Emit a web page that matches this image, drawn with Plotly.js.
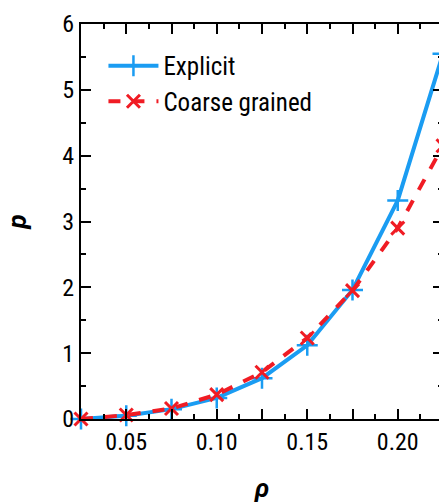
<!DOCTYPE html>
<html><head><meta charset="utf-8">
<script src="https://cdn.plot.ly/plotly-3.0.1.min.js"></script>
<style>html,body{margin:0;padding:0;overflow:hidden;background:#fff;}#plot{width:470px;height:504px;}</style>
</head><body><div id="plot"></div>
<script>
const rho = [0.025, 0.05, 0.075, 0.10, 0.125, 0.15, 0.175, 0.20, 0.225];
const pExplicit = [0.0, 0.05, 0.15, 0.32, 0.62, 1.12, 1.96, 3.32, 5.55];
const pCoarse = [0.0, 0.06, 0.16, 0.37, 0.71, 1.23, 1.95, 2.90, 4.15];
const xTickVals = [0.025, 0.05, 0.075, 0.10, 0.125, 0.15, 0.175, 0.20, 0.225];
const xTickText = ['', '0.05', '', '0.10', '', '0.15', '', '0.20', ''];
const yTickVals = [0, 1, 2, 3, 4, 5, 6];

const font = 'Roboto Condensed, Liberation Sans Narrow, Arial Narrow, sans-serif';
const titleFont = 'Roboto, Liberation Sans, Arial, sans-serif';
const traces = [
  {x: rho, y: pExplicit, name: 'Explicit', mode: 'lines+markers', cliponaxis: false,
   line: {color: '#1a9cf2', width: 4},
   marker: {symbol: 'cross-thin-open', size: 15, line: {color: '#1a9cf2', width: 2.5}}},
  {x: rho, y: pCoarse, name: 'Coarse grained', mode: 'lines+markers', cliponaxis: false,
   line: {color: '#f01c24', width: 4, dash: 'dash'},
   marker: {symbol: 'x-thin-open', size: 13, line: {color: '#f01c24', width: 3}}}
];
const axisCommon = {
  showline: true, linecolor: '#000', linewidth: 2, mirror: 'allticks',
  ticks: 'inside', ticklen: 10, tickwidth: 2, tickcolor: '#000',
  showgrid: false, zeroline: false,
  tickfont: {family: font, size: 24, color: '#000'}
};
const layout = {
  width: 470, height: 504,
  margin: {l: 81, r: 27, t: 24, b: 85},
  paper_bgcolor: '#fff', plot_bgcolor: '#fff',
  showlegend: true,
  legend: {x: 0.062, y: 0.952, xanchor: 'left', yanchor: 'top', bgcolor: 'rgba(0,0,0,0)',
    itemwidth: 50, tracegroupgap: 0,
    font: {family: font, size: 25, color: '#000'}},
  xaxis: Object.assign({}, axisCommon, {
    range: [0.025, 0.225], tickmode: 'array', tickvals: xTickVals, ticktext: xTickText,
    minor: {dtick: 0.0125, tick0: 0.0125, ticks: 'inside', ticklen: 5, tickwidth: 2, tickcolor: '#000'},
    title: {text: '<b><i>ρ</i></b>', font: {family: titleFont, size: 26, color: '#000'}, standoff: 24}
  }),
  yaxis: Object.assign({}, axisCommon, {
    range: [0, 6], tickmode: 'array', tickvals: yTickVals,
    minor: {dtick: 0.5, tick0: 0, ticks: 'inside', ticklen: 5, tickwidth: 2, tickcolor: '#000'},
    title: {text: '<b><i>p</i></b>', font: {family: titleFont, size: 26, color: '#000'}, standoff: 28}
  })
};
Plotly.newPlot('plot', traces, layout, {displayModeBar: false, staticPlot: true});
</script></body></html>
